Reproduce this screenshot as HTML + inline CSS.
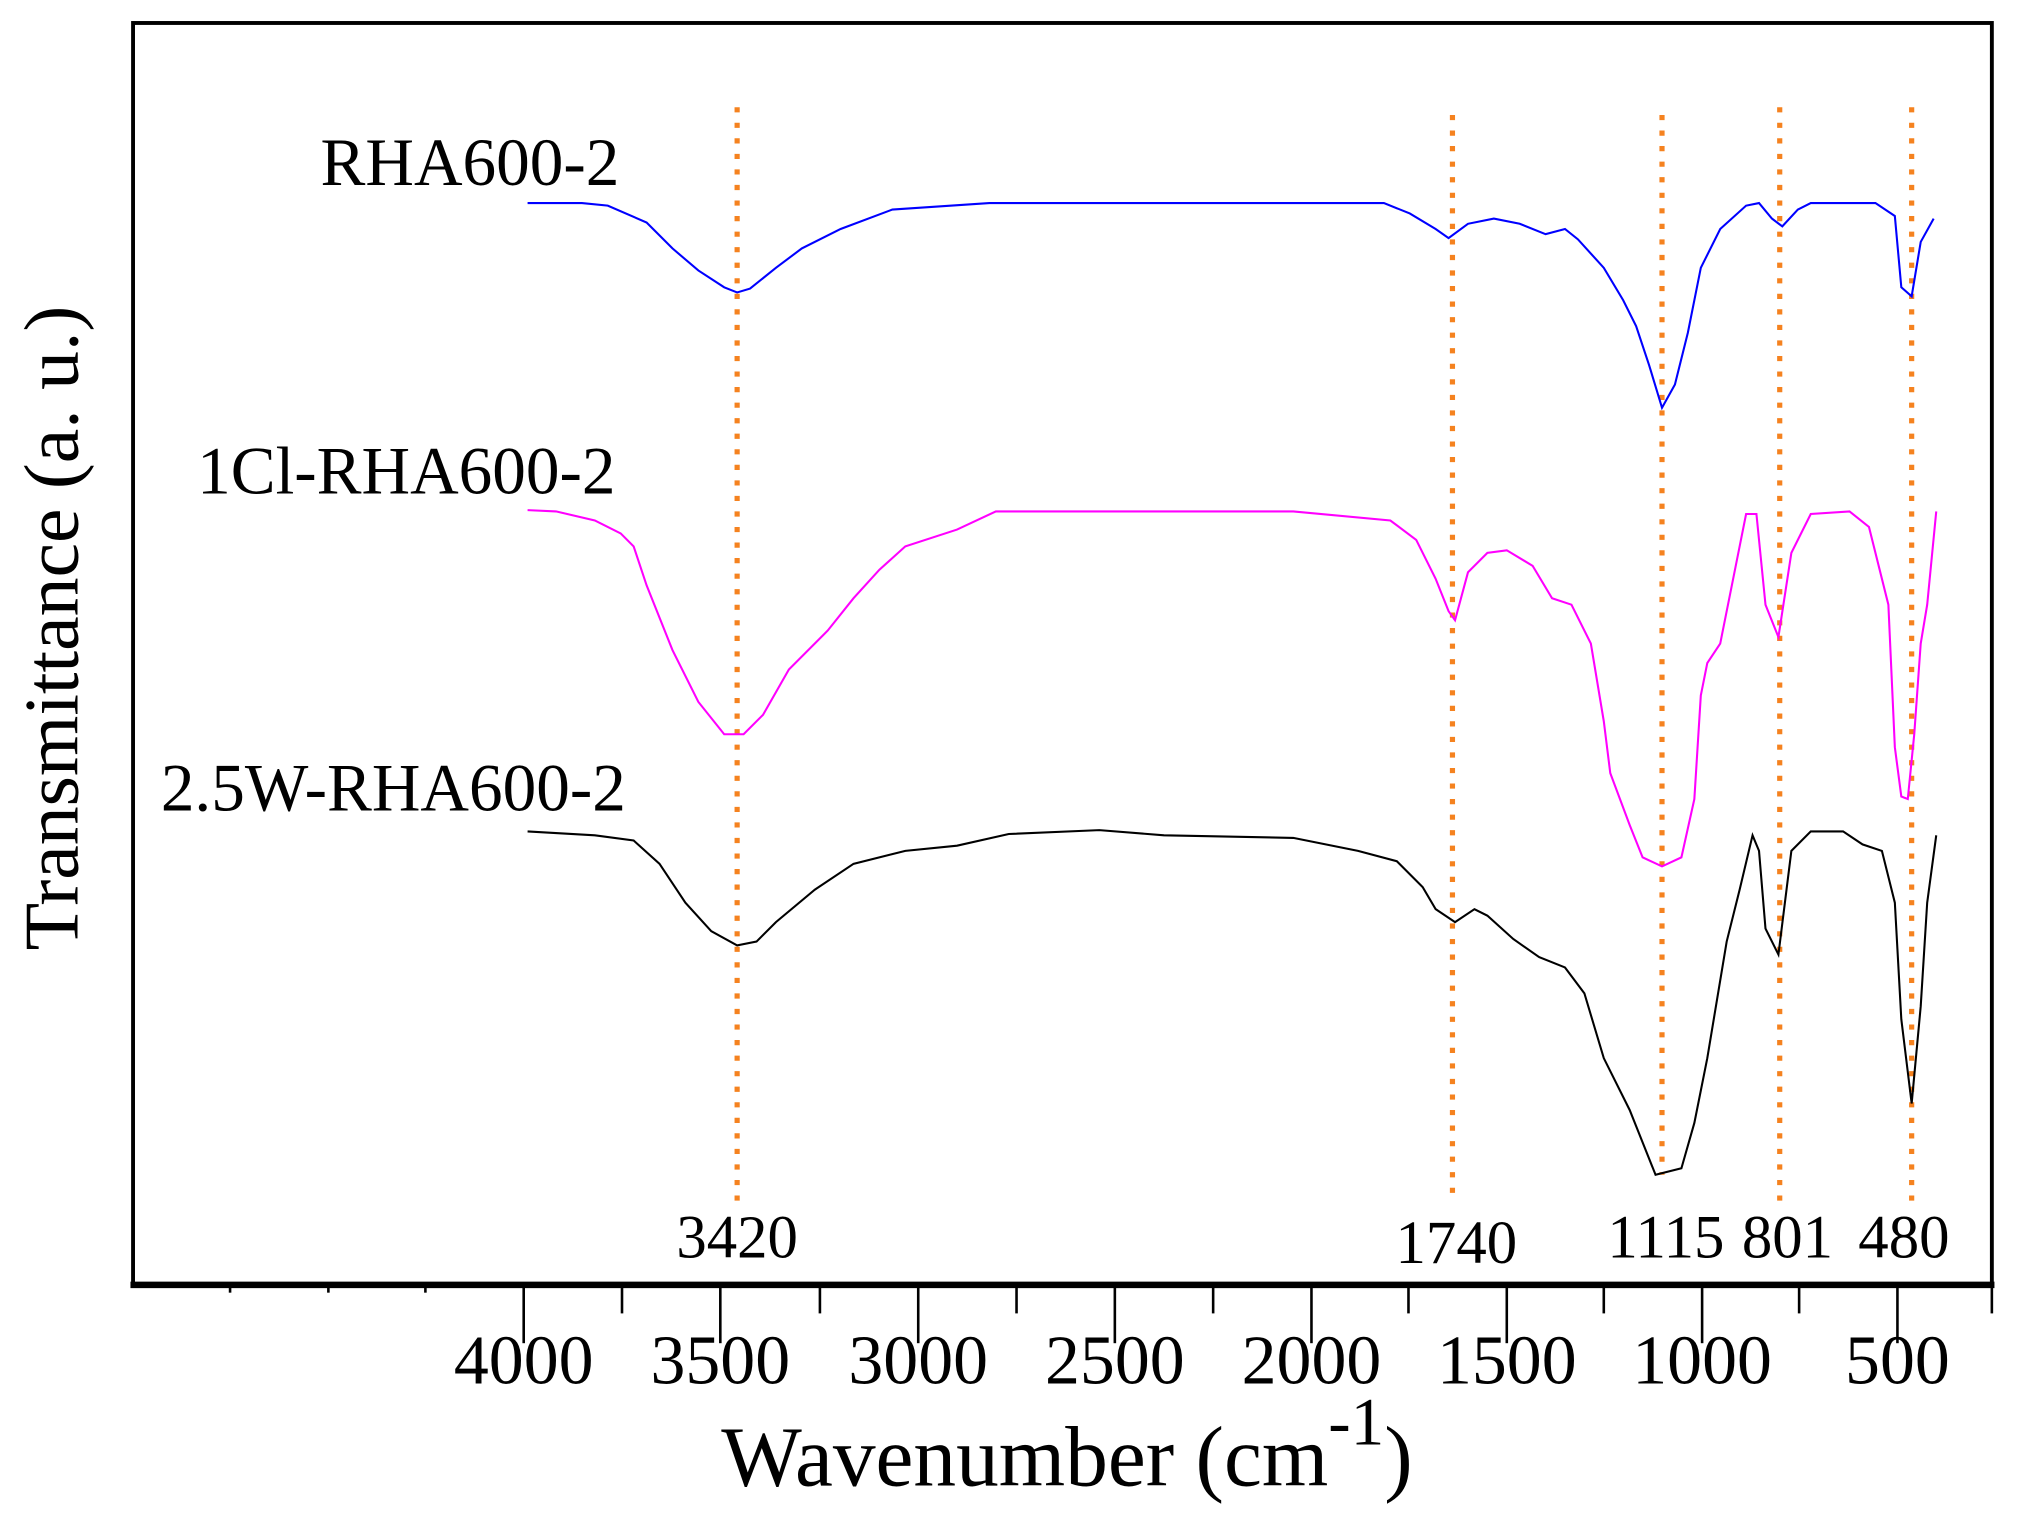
<!DOCTYPE html>
<html><head><style>html,body{margin:0;padding:0;background:#fff}svg{display:block}</style></head>
<body>
<svg width="2025" height="1515" viewBox="0 0 1560 1167" preserveAspectRatio="none" xmlns="http://www.w3.org/2000/svg" font-family="Liberation Serif, serif">
<rect x="0" y="0" width="1560" height="1167" fill="#fff"/>
<g transform="translate(-0.14,-3.26) scale(0.9965,0.998)">
<rect x="103" y="21" width="1437" height="974" fill="none" stroke="#000" stroke-width="3"/>
<line x1="101" y1="995" x2="1542" y2="995" stroke="#000" stroke-width="5"/>
<g stroke="#000" stroke-width="2">
<line x1="405" y1="995" x2="405" y2="1040"/><line x1="557" y1="995" x2="557" y2="1040"/>
<line x1="710" y1="995" x2="710" y2="1040"/><line x1="862" y1="995" x2="862" y2="1040"/>
<line x1="1014" y1="995" x2="1014" y2="1040"/><line x1="1165" y1="995" x2="1165" y2="1040"/>
<line x1="1316" y1="995" x2="1316" y2="1040"/><line x1="1467" y1="995" x2="1467" y2="1040"/>
<line x1="481" y1="995" x2="481" y2="1017"/><line x1="634" y1="995" x2="634" y2="1017"/>
<line x1="786" y1="995" x2="786" y2="1017"/><line x1="938" y1="995" x2="938" y2="1017"/>
<line x1="1089" y1="995" x2="1089" y2="1017"/><line x1="1240" y1="995" x2="1240" y2="1017"/>
<line x1="1391" y1="995" x2="1391" y2="1017"/><line x1="1540" y1="995" x2="1540" y2="1017"/>
<line x1="329" y1="995" x2="329" y2="1001"/><line x1="254" y1="995" x2="254" y2="1001"/><line x1="178" y1="995" x2="178" y2="1001"/>
</g>
<g font-size="54" text-anchor="middle" fill="#000">
<text x="405" y="1071">4000</text><text x="557" y="1071">3500</text><text x="710" y="1071">3000</text>
<text x="862" y="1071">2500</text><text x="1014" y="1071">2000</text><text x="1165" y="1071">1500</text>
<text x="1316" y="1071">1000</text><text x="1467" y="1071">500</text>
</g>
<text x="825" y="1150" font-size="66" text-anchor="middle">Wavenumber (cm<tspan dy="-32" font-size="52">-1</tspan><tspan dy="32">)</tspan></text>
<text transform="translate(60,488) rotate(-90)" font-size="60" text-anchor="middle">Transmittance (a. u.)</text>
<g stroke="#f5821f" stroke-width="4" stroke-dasharray="4 8">
<line x1="570" y1="86" x2="570" y2="930"/><line x1="1123" y1="92" x2="1123" y2="930"/>
<line x1="1285" y1="92" x2="1285" y2="910"/><line x1="1376" y1="86" x2="1376" y2="930"/>
<line x1="1478" y1="86" x2="1478" y2="930"/>
</g>
<g font-size="47" text-anchor="middle">
<text x="570" y="974">3420</text><text x="1126" y="978">1740</text>
<text x="1288" y="974">1115</text><text x="1382" y="974">801</text><text x="1472" y="974">480</text>
</g>
<g font-size="52" text-anchor="end">
<text x="479" y="146">RHA600-2</text><text x="476" y="384">1Cl-RHA600-2</text><text x="484" y="629">2.5W-RHA600-2</text>
</g>
<g fill="none" stroke-width="1.6">
<polyline stroke="#0000ff" points="408,160 450,160 470,162 500,175 520,195 540,212 560,225 570,229 580,226 600,210 620,195 650,180 690,165 765,160 1070,160 1090,168 1110,180 1120,187 1135,176 1155,172 1175,176 1195,184 1210,180 1220,188 1240,210 1255,235 1265,255 1275,285 1285,318 1295,300 1305,260 1315,210 1330,180 1350,162 1360,160 1370,172 1378,178 1390,165 1400,160 1450,160 1465,170 1470,225 1478,232 1485,190 1495,172"/>
<polyline stroke="#ff00ff" points="408,397 430,398 460,405 480,415 490,425 500,455 520,505 540,545 560,570 575,570 590,555 610,520 640,490 660,465 680,443 700,425 740,412 770,398 1000,398 1075,405 1095,420 1110,450 1120,475 1125,482 1135,445 1150,430 1165,428 1185,440 1200,465 1215,470 1230,500 1240,560 1245,600 1260,640 1270,665 1285,672 1300,665 1310,620 1315,540 1320,515 1330,500 1340,450 1350,400 1358,400 1365,470 1375,495 1385,430 1400,400 1430,398 1445,410 1460,470 1465,580 1470,618 1475,620 1480,570 1485,500 1490,470 1497,398"/>
<polyline stroke="#000" points="408,645 460,648 490,652 510,670 530,700 550,722 570,733 585,730 600,715 630,690 660,670 700,660 740,656 780,647 850,644 900,648 1000,650 1050,660 1080,668 1100,688 1110,705 1125,715 1140,705 1150,710 1170,728 1190,742 1210,750 1225,770 1240,820 1260,860 1280,910 1300,905 1310,870 1320,820 1335,730 1345,690 1355,648 1360,660 1365,720 1375,740 1385,660 1400,645 1425,645 1440,655 1455,660 1465,700 1470,790 1478,855 1485,780 1490,700 1497,648"/>
</g>
</g>
</svg>
</body></html>
